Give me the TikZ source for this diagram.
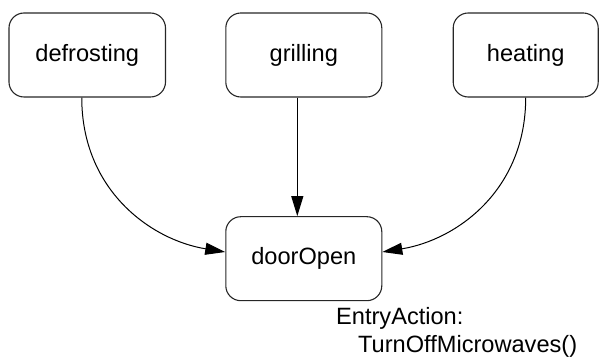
\documentclass[tikz,border=0pt]{standalone}
\usepackage{fontspec}
\setmainfont{Liberation Sans}
\usetikzlibrary{arrows.meta}
\begin{document}
\begin{tikzpicture}[x=1pt,y=-1pt,
  statebox/.style={draw=black!85,line width=1.1pt,rounded corners=15pt,
    minimum height=84pt,inner sep=0pt,font=\fontsize{23.6}{28}\selectfont},
  trans/.style={draw=black,line width=1pt,-{Triangle[length=20pt,width=12pt]}},
  note/.style={anchor=base west,inner sep=0pt,font=\fontsize{23.6}{28}\selectfont}]
\useasboundingbox (0,0) rectangle (600,363);
\node[statebox,minimum width=156.5pt] (defrost) at (87.25,55) {defrosting};
\node[statebox,minimum width=156pt] (grill) at (303.8,55) {grilling};
\node[statebox,minimum width=145pt] (heat) at (525.7,55) {heating};
\node[statebox,minimum width=156pt] (door) at (303.8,258.7) {doorOpen};
\node[note] (ea) at (336,325) {EntryAction:};
\node[note] (to) at (358,353) {TurnOffMicrowaves()};
\draw[trans] ([xshift=-5.5pt]defrost.south) .. controls +(0,93) and +(-74,-12) .. ([yshift=6.7pt]door.west);
\draw[trans] ([xshift=-6.5pt]grill.south) -- ([xshift=-6.5pt]door.north);
\draw[trans] (heat.south) .. controls +(0,93) and +(74,-12) .. ([yshift=6.7pt]door.east);
\end{tikzpicture}
\end{document}
